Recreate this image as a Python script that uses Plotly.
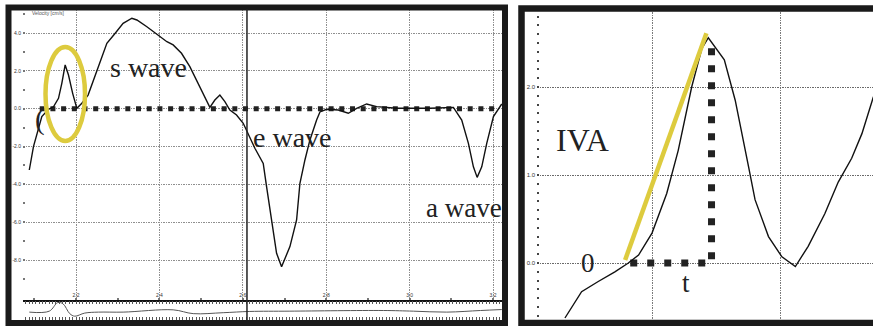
import plotly.graph_objects as go

W, H = 873, 326

# ---------------- data ----------------
# Left panel: tissue Doppler velocity (cm/s) vs time (s)
time_s = [2.088, 2.098, 2.118, 2.134, 2.146, 2.158, 2.166, 2.174, 2.182, 2.192,
          2.202, 2.214, 2.229, 2.246, 2.258, 2.274, 2.294, 2.313, 2.334, 2.346,
          2.370, 2.401, 2.418, 2.433, 2.453, 2.473, 2.497, 2.521, 2.533, 2.545,
          2.557, 2.569, 2.585, 2.601, 2.629, 2.649, 2.657, 2.669, 2.681, 2.693,
          2.713, 2.729, 2.737, 2.749, 2.761, 2.777, 2.785, 2.801, 2.829, 2.853,
          2.873, 2.897, 2.921, 2.969, 3.049, 3.105, 3.125, 3.141, 3.153, 3.162,
          3.173, 3.185, 3.201, 3.221]
velocity = [-3.24, -2.0, -0.42, -0.03, 0.10, 0.55, 1.34, 2.31, 1.78, 0.81,
            0.02, 0.29, 0.72, 1.78, 2.57, 3.46, 3.99, 4.51, 4.78, 4.69,
            4.33, 3.81, 3.54, 3.37, 2.93, 2.22, 1.16, 0.07, 0.46, 0.72,
            0.37, -0.07, -0.33, -0.77, -2.09, -2.89, -4.12, -5.88, -7.64, -8.35,
            -7.29, -5.88, -3.94, -2.71, -1.65, -0.60, -0.17, -0.03, -0.07, -0.24,
            0.02, 0.25, 0.11, 0.02, 0.02, 0.07, -0.60, -1.83, -3.07, -3.63,
            -3.07, -1.83, -0.42, 0.25]

# bottom strip trace (relative amplitude)
strip_t = [2.088, 2.136, 2.156, 2.169, 2.185, 2.197, 2.221, 2.254, 2.313,
           2.433, 2.481, 2.553, 2.617, 2.713, 2.937, 3.009, 3.089, 3.170, 3.221]
strip_v = [-0.17, -0.07, 0.83, 0.70, -0.33, -0.60, -0.27, -0.17, -0.17,
           0.07, -0.33, -0.23, -0.10, -0.07, 0.0, -0.07, -0.17, 0.0, 0.10]

left_ticks_x = [2.2, 2.4, 2.6, 2.8, 3.0, 3.2]
left_ticks_y = [4.0, 2.0, 0.0, -2.0, -4.0, -6.0, -8.0]
baseline_t = [2.113, 3.215]
baseline_v = [0.0, 0.0]
marker_t = 2.610  # solid vertical marker line

# Right panel: zoom on isovolumic (IVA) peak
zoom_t = [2.1464, 2.1490, 2.1516, 2.1542, 2.1563, 2.1579, 2.1600, 2.1623, 2.1641,
          2.1662, 2.1678, 2.1688, 2.1713, 2.1730, 2.1751, 2.1761, 2.1782, 2.1803,
          2.1824, 2.1844, 2.1870, 2.1891, 2.1912, 2.1928, 2.1946]
zoom_v = [-0.625, -0.326, -0.21, -0.10, 0.0, 0.09, 0.34, 0.79, 1.28,
          2.0, 2.44, 2.56, 2.31, 1.85, 1.09, 0.72, 0.30, 0.07,
          -0.04, 0.19, 0.56, 0.92, 1.19, 1.47, 1.89]
right_ticks_y = [0.0, 1.0, 2.0]
slope_t = [2.1558, 2.1685]
slope_v = [0.034, 2.61]
time_t = [2.1566, 2.1693, 2.1693]
time_v = [0.0, 0.0, 2.55]


def xp(px):
    return px / W


def yp(py):
    return 1 - py / H


fig = go.Figure()

GRID = "#8f8f8f"
GRIDDASH = "1.5px,1px"
TICKFONT = dict(family="Liberation Sans, Arial, sans-serif", size=5, color="#333")

# left main
fig.add_trace(go.Scatter(x=baseline_t, y=baseline_v, mode="lines",
                         line=dict(color="#222", width=5, dash="5px,5.7px"),
                         xaxis="x", yaxis="y", showlegend=False, hoverinfo="skip"))
fig.add_trace(go.Scatter(x=time_s, y=velocity, mode="lines",
                         line=dict(color="#111", width=1.4),
                         xaxis="x", yaxis="y", showlegend=False))
# strip
fig.add_trace(go.Scatter(x=strip_t, y=strip_v, mode="lines", line_shape="spline",
                         line=dict(color="#555", width=1),
                         xaxis="x2", yaxis="y2", showlegend=False, hoverinfo="skip"))
# right panel
fig.add_trace(go.Scatter(x=time_t, y=time_v, mode="lines",
                         line=dict(color="#222", width=7, dash="7px,10px"),
                         xaxis="x3", yaxis="y3", showlegend=False, hoverinfo="skip"))
fig.add_trace(go.Scatter(x=zoom_t, y=zoom_v, mode="lines",
                         line=dict(color="#111", width=1.4),
                         xaxis="x3", yaxis="y3", showlegend=False))
fig.add_trace(go.Scatter(x=slope_t, y=slope_v, mode="lines",
                         line=dict(color="#DDCB3E", width=4.5),
                         xaxis="x3", yaxis="y3", showlegend=False, hoverinfo="skip"))

# axes geometry (pixel-derived)
lx0, lx1 = 23, 502
l_range = [2.2 - (76 - lx0) / 417, 3.2 + (lx1 - 493) / 417]
ly_top, ly_bot, y0px, ppu = 9, 300, 108.7, 18.92
ly_range = [-(ly_bot - y0px) / ppu, (y0px - ly_top) / ppu]

rx0 = 537
r_range = [2.16 - (652 - rx0) / 6400, 2.18 + (W - 780) / 6400]
ry_top, ry_bot, ry0, rppu = 12, 320, 263, 88
ry_range = [-(ry_bot - ry0) / rppu, (ry0 - ry_top) / rppu]

fig.update_layout(
    width=W, height=H, autosize=False,
    margin=dict(l=0, r=0, t=0, b=0),
    paper_bgcolor="white", plot_bgcolor="rgba(0,0,0,0)",
    xaxis=dict(domain=[xp(lx0), xp(lx1)], range=l_range, anchor="y",
               tickvals=left_ticks_x, ticktext=[f"{v:.1f}" for v in left_ticks_x],
               ticklabelposition="inside", tickfont=TICKFONT, ticks="",
               showgrid=True, gridcolor=GRID, griddash=GRIDDASH, gridwidth=1,
               showline=True, linecolor="#111", linewidth=1.5, zeroline=False,
               minor=dict(dtick=0.1, tick0=2.0, ticks="inside", ticklen=2, tickwidth=2,
                          tickcolor="#777", showgrid=False)),
    yaxis=dict(domain=[yp(ly_bot), yp(ly_top)], range=ly_range, anchor="x",
               tickvals=left_ticks_y, ticktext=[f"{v:.1f}" for v in left_ticks_y],
               tickfont=TICKFONT, ticks="", ticklabelstandoff=1,
               showgrid=True, gridcolor=GRID, griddash=GRIDDASH, gridwidth=1,
               zeroline=False, showline=False,
               minor=dict(dtick=1, tick0=0, ticks="inside", ticklen=2, tickwidth=2,
                          tickcolor="#777", showgrid=False)),
    xaxis2=dict(domain=[xp(lx0), xp(lx1)], range=l_range, anchor="y2",
                showticklabels=False, ticks="inside", ticklen=3, tickwidth=1,
                tickcolor="#555", dtick=0.008, tick0=2.0, mirror="ticks",
                showgrid=False, zeroline=False, showline=False),
    yaxis2=dict(domain=[yp(320), yp(301)], range=[-1, 1], anchor="x2", visible=False),
    xaxis3=dict(domain=[xp(rx0), 1], range=r_range, anchor="y3",
                dtick=0.02, tick0=2.16, showticklabels=False, ticks="",
                showgrid=True, gridcolor="#7a7a7a", griddash=GRIDDASH, gridwidth=1,
                zeroline=False, showline=False),
    yaxis3=dict(domain=[yp(ry_bot), yp(ry_top)], range=ry_range, anchor="x3",
                tickvals=right_ticks_y, ticktext=[f"{v:.1f}" for v in right_ticks_y],
                tickfont=dict(family="Liberation Sans, Arial, sans-serif", size=6, color="#333"),
                ticks="", ticklabelstandoff=1,
                showgrid=True, gridcolor="#6a6a6a", griddash=GRIDDASH, gridwidth=1,
                zeroline=False, showline=False,
                minor=dict(dtick=0.1, tick0=0, ticks="inside", ticklen=2, tickwidth=2,
                           tickcolor="#444", showgrid=False)),
)

shapes = [
    # left frame
    dict(type="rect", xref="paper", yref="paper", x0=xp(8.5), x1=xp(505),
         y0=yp(7.5), y1=yp(323), line=dict(color="#1a1a1a", width=6), layer="above"),
    # right frame
    dict(type="rect", xref="paper", yref="paper", x0=xp(521.5), x1=xp(905),
         y0=yp(8.5), y1=yp(323), line=dict(color="#1a1a1a", width=6.5), layer="above"),
    # solid vertical marker line through main plot and strip
    dict(type="line", xref="x", yref="paper", x0=marker_t, x1=marker_t,
         y0=yp(320), y1=yp(9), line=dict(color="#222", width=1.5)),
    # yellow ellipse around IVA peak
    dict(type="circle", xref="paper", yref="paper", x0=xp(45.5), x1=xp(85),
         y0=yp(47), y1=yp(141), line=dict(color="#DDCB3E", width=4.5)),
]
fig.update_layout(shapes=shapes)

SERIF = "Liberation Serif, Times New Roman, serif"


def label(text, cx, cy, size):
    return dict(text=text, xref="paper", yref="paper", x=xp(cx), y=yp(cy),
                xanchor="center", yanchor="middle", showarrow=False,
                font=dict(family=SERIF, size=size, color="#222"))


annotations = [
    label("s wave", 148.5, 67, 28),
    label("e wave", 292, 137, 28),
    label("a wave", 464, 208, 27),
    label("(", 40, 119, 29),
    label("IVA", 582, 140, 32),
    label("0", 588, 263, 27),
    label("t", 686, 283, 27),
    dict(text="Velocity [cm/s]", xref="paper", yref="paper", x=xp(30), y=yp(13),
         xanchor="left", yanchor="middle", showarrow=False,
         font=dict(family="Liberation Sans, Arial, sans-serif", size=5, color="#555")),
]
fig.update_layout(annotations=annotations)

fig.write_html("out.html",
               config={"displayModeBar": False, "staticPlot": True},
               post_script="document.body.style.margin='0px';document.body.style.overflow='hidden';")
